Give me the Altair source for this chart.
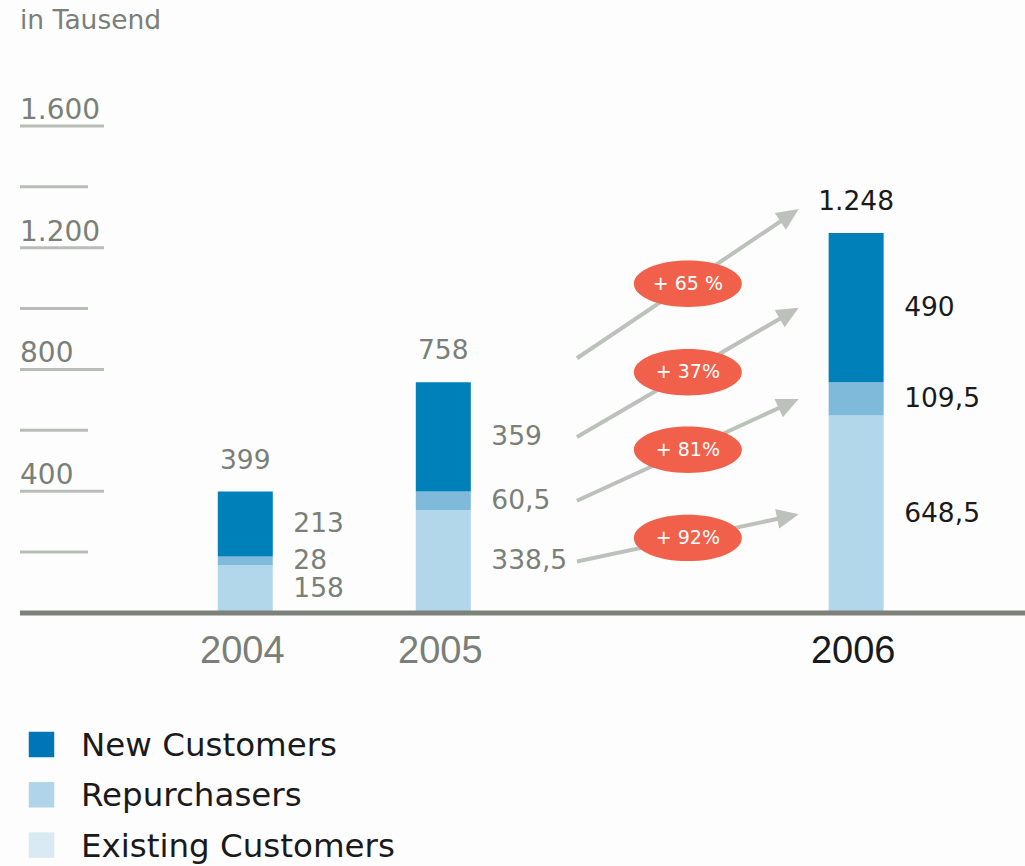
import math
import altair as alt
import pandas as pd

# ---------------- data ----------------
years = ["2004", "2005", "2006"]
series = ["New Customers", "Repurchasers", "Existing Customers"]
new_customers = [213, 359, 490]
repurchasers = [28, 60.5, 109.5]
existing = [158, 338.5, 648.5]
totals = [399, 758, 1248]
new_labels = ["213", "359", "490"]
rep_labels = ["28", "60,5", "109,5"]
exi_labels = ["158", "338,5", "648,5"]
total_labels = ["399", "758", "1.248"]
growth_labels = ["+ 65 %", "+ 37%", "+ 81%", "+ 92%"]
tick_values = [200, 400, 600, 800, 1000, 1200, 1400, 1600]
tick_labels = ["", "400", "", "800", "", "1.200", "", "1.600"]

# ---------------- layout / style ----------------
W, H = 1005, 613
PAD_L, PAD_B = 20, 253
K = 0.3044                     # px per unit on y
Y_MAX = H / K
PX_SLOT = 200
X_MIN = -0.1125
X_MAX = X_MIN + W / PX_SLOT
slot = {"2004": 1, "2005": 2, "2006": 4.085}
year_colors = {"2004": "#7a7f78", "2005": "#7a7f78", "2006": "#1a1a1a"}
bar_colors = ["#0080b9", "#7fbadb", "#b3d7ea"]
legend_colors = ["#0076b6", "#b0d5ea", "#d9eaf4"]
FONT = "DejaVu Sans"
GRAY = "#7a7f78"
ARROW = "#bdc1bc"
BADGE = "#f0604a"

xs = alt.Scale(domain=[X_MIN, X_MAX], nice=False, zero=False)
ys = alt.Scale(domain=[0, Y_MAX], nice=False, zero=False)

# ---------------- tables ----------------
bar_rows, seg_rows = [], []
for i, yr in enumerate(years):
    segs = [
        ("Existing Customers", 0, existing[i], exi_labels[i]),
        ("Repurchasers", existing[i], existing[i] + repurchasers[i], rep_labels[i]),
        ("New Customers", existing[i] + repurchasers[i],
         existing[i] + repurchasers[i] + new_customers[i], new_labels[i]),
    ]
    for name, a, b, lab in segs:
        bar_rows.append({"year": yr, "slot": slot[yr], "series": name, "y0": a, "y1": b})
        seg_rows.append({"slot": slot[yr], "mid": (a + b) / 2, "label": lab,
                         "tc": year_colors[yr]})
bars_df = pd.DataFrame(bar_rows)
seg_df = pd.DataFrame(seg_rows)
tot_df = pd.DataFrame({"slot": [slot[y] for y in years], "total": totals,
                       "label": total_labels, "tc": [year_colors[y] for y in years]})
year_df = pd.DataFrame({"slot": [slot[y] for y in years], "year": years,
                        "tc": [year_colors[y] for y in years]})

# arrows 2005 -> 2006
i5, i6 = 1, 2
off = 24 / K
starts = [totals[i5] + off,
          existing[i5] + repurchasers[i5] + new_customers[i5] / 2,
          existing[i5] + repurchasers[i5] / 2,
          existing[i5] / 2]
ends = [totals[i6] + off,
        existing[i6] + repurchasers[i6] + new_customers[i6] / 2,
        existing[i6] + repurchasers[i6] / 2,
        existing[i6] / 2]
s0 = slot["2005"] + 135 / PX_SLOT
s1 = slot["2006"] - 58 / PX_SLOT
arrow_rows = []
for a, b, g in zip(starts, ends, growth_labels):
    dxp = (s1 - s0) * PX_SLOT
    dyp = (b - a) * K
    L = math.hypot(dxp, dyp)
    arrow_rows.append({
        "x0": s0, "y0": a,
        "x1": s1 - 12 * dxp / L / PX_SLOT, "y1": b - 12 * dyp / L / K,
        "xt": s1, "yt": b,
        "ang": math.degrees(math.atan2(dxp, dyp)),
        "xm": (s0 + s1) / 2, "ym": (a + b) / 2, "g": g,
    })
arr_df = pd.DataFrame(arrow_rows)

tick_df = pd.DataFrame({"v": tick_values, "label": tick_labels,
                        "major": [t != "" for t in tick_labels]})

# ---------------- layers ----------------
X = lambda f: alt.X(f, scale=xs, axis=None)
Y = lambda f: alt.Y(f, scale=ys, axis=None)

minor_ticks = alt.Chart(tick_df).transform_filter("!datum.major").mark_rule(
    color="#b9bdb8", strokeWidth=3).encode(y=Y("v:Q"), x=alt.value(0), x2=alt.value(68))
major_ticks = alt.Chart(tick_df).transform_filter("datum.major").mark_rule(
    color="#b9bdb8", strokeWidth=3).encode(y=Y("v:Q"), x=alt.value(0), x2=alt.value(84))
tick_text = alt.Chart(tick_df).transform_filter("datum.major").mark_text(
    align="left", baseline="alphabetic", dy=-7, font=FONT, fontSize=28, color=GRAY
).encode(y=Y("v:Q"), x=alt.value(0), text="label:N")

title = alt.Chart(pd.DataFrame({"t": ["in Tausend"]})).mark_text(
    align="left", baseline="middle", font=FONT, fontSize=26.5, color=GRAY
).encode(x=alt.value(0), y=alt.value(21), text="t:N")

bars = alt.Chart(bars_df).mark_bar(size=55).encode(
    x=X("slot:Q"), y=Y("y0:Q"), y2="y1:Q",
    color=alt.Color("series:N", scale=alt.Scale(domain=series, range=bar_colors), legend=None),
)

baseline = alt.Chart(pd.DataFrame({"v": [0]})).mark_rule(color="#7d8179", strokeWidth=5).encode(
    y=Y("v:Q"), x=alt.value(0), x2=alt.value(W))

seg_text = alt.Chart(seg_df).mark_text(
    align="left", baseline="middle", dx=48, font=FONT, fontSize=26.5
).encode(x=X("slot:Q"), y=Y("mid:Q"), text="label:N", color=alt.Color("tc:N", scale=None))

tot_text = alt.Chart(tot_df).mark_text(
    align="center", baseline="middle", dy=-31, font=FONT, fontSize=26.5
).encode(x=X("slot:Q"), y=Y("total:Q"), text="label:N", color=alt.Color("tc:N", scale=None))

year_text = alt.Chart(year_df).mark_text(
    align="center", baseline="middle", dx=-3, font="Liberation Sans", fontSize=38
).encode(x=X("slot:Q"), y=alt.value(652), text="year:N", color=alt.Color("tc:N", scale=None))

arrow_lines = alt.Chart(arr_df).mark_rule(color=ARROW, strokeWidth=4).encode(
    x=X("x0:Q"), y=Y("y0:Q"), x2="x1:Q", y2="y1:Q")
arrow_heads = alt.Chart(arr_df).mark_point(
    shape="M 0 0 L 1 2.2 L -1 2.2 Z", filled=True, size=400, opacity=1, color=ARROW
).encode(x=X("xt:Q"), y=Y("yt:Q"), angle=alt.Angle("ang:Q", scale=None))

badges = alt.Chart(arr_df).mark_point(
    shape="M -1 0 A 1 0.43 0 1 0 1 0 A 1 0.43 0 1 0 -1 0 Z",
    filled=True, size=108 * 108, opacity=1, color=BADGE, strokeWidth=0
).encode(x=X("xm:Q"), y=Y("ym:Q"))
badge_text = alt.Chart(arr_df).mark_text(
    align="center", baseline="middle", font=FONT, fontSize=19, color="white"
).encode(x=X("xm:Q"), y=Y("ym:Q"), text="g:N")

legend_layers = []
for i, (lab, col) in enumerate(zip(series, legend_colors)):
    d = pd.DataFrame({"t": [lab]})
    legend_layers.append(alt.Chart(d).mark_square(size=650, color=col, opacity=1).encode(
        x=alt.value(21.5), y=alt.value(744.5 + 50.3 * i)))
    legend_layers.append(alt.Chart(d).mark_text(
        align="left", baseline="alphabetic", font=FONT, fontSize=32.5, color="#1a1a1a"
    ).encode(x=alt.value(61), y=alt.value(756 + 50.3 * i), text="t:N"))

chart = alt.layer(
    minor_ticks, major_ticks, tick_text, title, bars, baseline,
    seg_text, tot_text, year_text, arrow_lines, arrow_heads, badges, badge_text,
    *legend_layers
).properties(
    width=W, height=H,
    padding={"left": PAD_L, "top": 0, "right": 0, "bottom": PAD_B},
    autosize=alt.AutoSizeParams(type="none"),
    background="#fdfdfd",
).configure_view(strokeWidth=0)

chart.save("out.html", embed_options={"renderer": "svg", "actions": False})
